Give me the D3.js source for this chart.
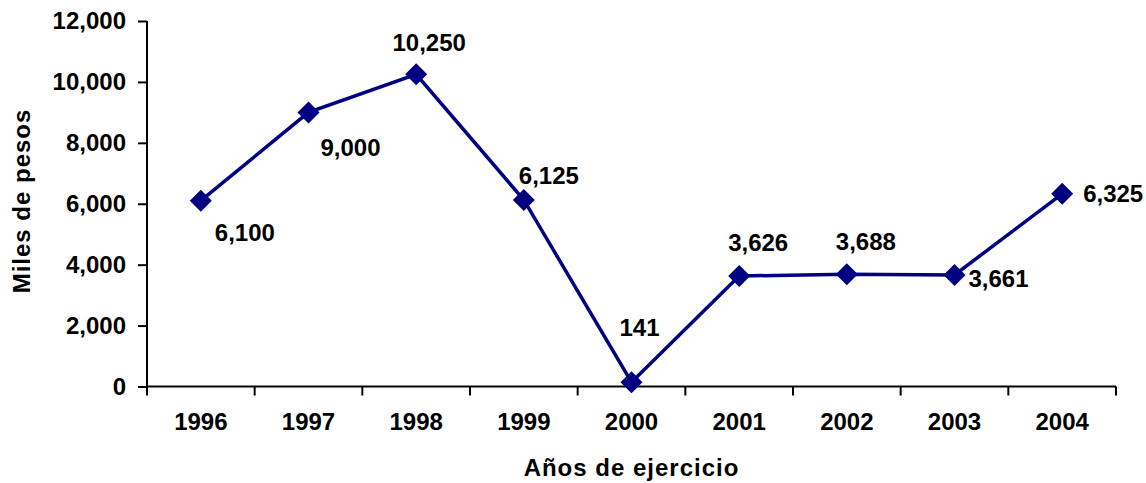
<html>
<head>
<meta charset="utf-8">
<title>Miles de pesos</title>
<style>
  body { margin: 0; background: #fff; }
  text { font-family: "Liberation Sans", Arial, sans-serif; font-weight: bold; fill: #000; }
</style>
<script src="https://d3js.org/d3.v7.min.js"></script>
</head>
<body>
<svg width="1146" height="483"></svg>
<script>
var years = ["1996","1997","1998","1999","2000","2001","2002","2003","2004"];
var values = [6100, 9000, 10250, 6125, 141, 3626, 3688, 3661, 6325];
var yTicks = [0, 2000, 4000, 6000, 8000, 10000, 12000];
// where each data label sits relative to its marker
var labelOffset = [[44,32],[42,35],[13,-32],[25,-24],[8,-55],[19,-33],[19,-33],[44,4],[51,0]];

var svg = d3.select("svg"),
    mLeft = 147, mRight = 1116, mTop = 21, mBottom = 386.5;

var x = d3.scaleBand().domain(years).range([mLeft, mRight]).padding(0),
    y = d3.scaleLinear().domain([0, 12000]).range([mBottom, mTop]),
    fmt = d3.format(",");

// y axis
var ya = svg.append("g").attr("transform", `translate(${mLeft},0)`)
    .call(d3.axisLeft(y).tickValues(yTicks).tickFormat(fmt).tickSize(9).tickPadding(12));
ya.select(".domain").attr("stroke", "#000").attr("stroke-width", 2).attr("d", `M0,${mTop}V${mBottom}`);
ya.selectAll(".tick line").attr("stroke", "#000").attr("stroke-width", 2);
ya.selectAll(".tick text").style("font-size", "24px").style("font-weight", "bold")
    .style("font-family", "Liberation Sans, Arial, sans-serif");

// x axis
var xa = svg.append("g").attr("transform", `translate(0,${mBottom})`)
    .call(d3.axisBottom(x).tickSize(0).tickPadding(26));
xa.select(".domain").attr("stroke", "#000").attr("stroke-width", 2).attr("d", `M${mLeft},0H${mRight}`);
xa.selectAll(".tick text").style("font-size", "24px").style("font-weight", "bold")
    .style("font-family", "Liberation Sans, Arial, sans-serif");
xa.selectAll("line.sep")
    .data(years.map(d => x(d)).concat([mRight]))
    .enter().append("line").attr("class", "sep")
    .attr("x1", d => d).attr("x2", d => d)
    .attr("y1", 0).attr("y2", 9)
    .attr("stroke", "#000").attr("stroke-width", 2);

// line + markers
var cx = d => x(d) + x.bandwidth() / 2;
svg.append("path")
    .datum(values)
    .attr("fill", "none")
    .attr("stroke", "#000080")
    .attr("stroke-width", 3.5)
    .attr("d", d3.line().x((d, i) => cx(years[i])).y(d => y(d)));

svg.selectAll("path.pt")
    .data(values).enter().append("path").attr("class", "pt")
    .attr("d", "M0,-11L11,0L0,11L-11,0Z")
    .attr("fill", "#000080")
    .attr("transform", (d, i) => `translate(${cx(years[i])},${y(d)})`);

svg.selectAll("text.lbl")
    .data(values).enter().append("text").attr("class", "lbl")
    .attr("x", (d, i) => cx(years[i]) + labelOffset[i][0])
    .attr("y", (d, i) => y(d) + labelOffset[i][1])
    .attr("dy", "0.35em")
    .attr("text-anchor", "middle")
    .style("font-size", "24px")
    .text(d => fmt(d));

// titles
svg.append("text")
    .attr("x", (mLeft + mRight) / 2).attr("y", 468)
    .attr("dy", "0.35em")
    .attr("text-anchor", "middle")
    .style("font-size", "24px")
    .style("letter-spacing", "1px")
    .text("Años de ejercicio");

svg.append("text")
    .attr("transform", `translate(22,201) rotate(-90)`)
    .attr("dy", "0.35em")
    .attr("text-anchor", "middle")
    .style("font-size", "24px")
    .style("letter-spacing", "1px")
    .text("Miles de pesos");
</script>
</body>
</html>
